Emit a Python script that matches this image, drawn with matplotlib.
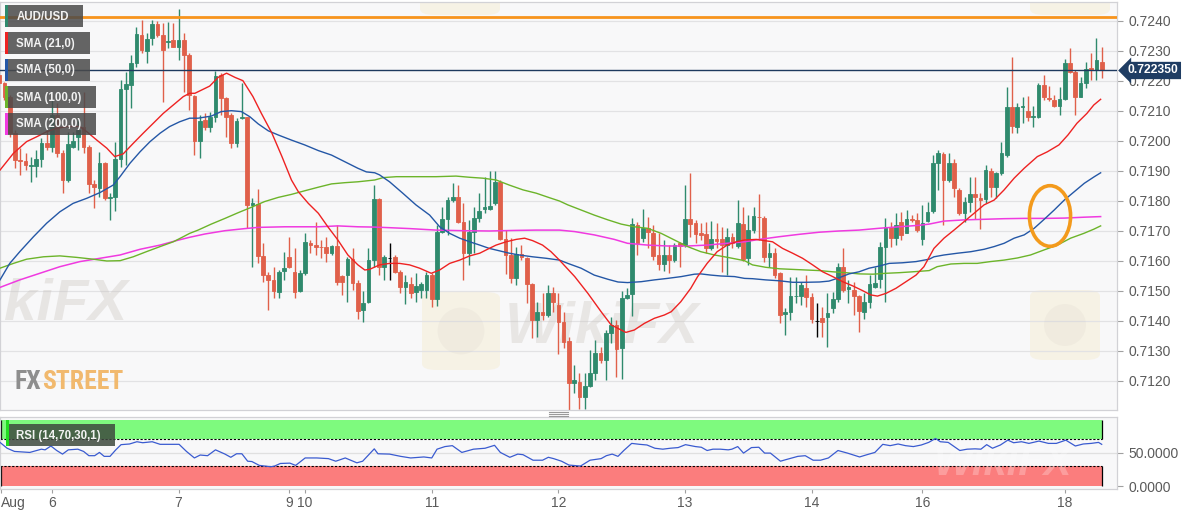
import numpy as np
import matplotlib
matplotlib.use('Agg')
import matplotlib.pyplot as plt
from matplotlib.patches import Rectangle, Ellipse, FancyBboxPatch
import matplotlib.transforms as mtransforms
from matplotlib import font_manager as fm

plt.rcParams['font.family'] = ['Liberation Sans', 'DejaVu Sans']

# ---------------- data (AUD/USD hourly) ----------------
candle_open = [
0.72220,0.72192,0.72148,0.72028,0.71937,0.71932,0.71917,0.71917,0.71939,0.71992,
0.71981,0.72087,0.71961,0.71870,0.71981,0.72012,0.72048,0.71979,0.71857,0.71842,
0.71926,0.71809,0.71814,0.71940,0.72172,0.72187,0.72259,0.72353,0.72301,0.72342,
0.72390,0.72353,0.72331,0.72337,0.72314,0.72337,0.72287,0.72150,0.72001,0.72070,
0.72048,0.72081,0.72220,0.72142,0.72087,0.71994,0.72076,0.72079,0.71787,0.71790,
0.71617,0.71553,0.71537,0.71498,0.71568,0.71614,0.71564,0.71501,0.71561,0.71659,
0.71653,0.71648,0.71648,0.71626,0.71650,0.71550,0.71553,0.71606,0.71528,0.71437,
0.71464,0.71603,0.71806,0.71581,0.71611,0.71614,0.71564,0.71514,0.71523,0.71497,
0.71503,0.71503,0.71553,0.71473,0.71696,0.71740,0.71803,0.71812,0.71731,0.71626,
0.71698,0.71742,0.71772,0.71772,0.71792,0.71864,0.71672,0.71620,0.71542,0.71623,
0.71609,0.71523,0.71403,0.71431,0.71420,0.71492,0.71453,0.71398,0.71334,0.71194,
0.71198,0.71146,0.71183,0.71226,0.71292,0.71270,0.71359,0.71387,0.71309,0.71476,
0.71490,0.71720,0.71676,0.71709,0.71692,0.71620,0.71590,0.71620,0.71603,0.71659,
0.71653,0.71740,0.71726,0.71692,0.71690,0.71642,0.71672,0.71672,0.71653,0.71679,
0.71650,0.71723,0.71609,0.71703,0.71748,0.71742,0.71612,0.71628,0.71559,0.71423,
0.71430,0.71482,0.71483,0.71509,0.71481,0.71401,0.71409,0.71412,0.71442,0.71472,
0.71581,0.71506,0.71503,0.71483,0.71431,0.71464,0.71514,0.71539,0.71648,0.71714,
0.71676,0.71731,0.71694,0.71740,0.71737,0.71672,0.71734,0.71768,0.71926,0.71957,
0.71870,0.71928,0.71837,0.71761,0.71798,0.71823,0.71809,0.71806,0.71901,0.71848,
0.71892,0.71953,0.72112,0.72048,0.72114,0.72101,0.72079,0.72081,0.72187,0.72144,
0.72137,0.72117,0.72139,0.72261,0.72231,0.72148,0.72192,0.72242,0.72237,0.72263]
candle_high = [
0.72231,0.72198,0.72153,0.72037,0.71976,0.71959,0.71948,0.71970,0.72009,0.72037,
0.72137,0.72126,0.71970,0.72031,0.72031,0.72081,0.72164,0.71987,0.71870,0.71964,
0.71931,0.71826,0.71998,0.72203,0.72231,0.72287,0.72381,0.72403,0.72359,0.72403,
0.72401,0.72392,0.72398,0.72392,0.72439,0.72359,0.72292,0.72153,0.72087,0.72092,
0.72098,0.72234,0.72226,0.72148,0.72092,0.72076,0.72194,0.72081,0.71809,0.71839,
0.71659,0.71564,0.71581,0.71570,0.71631,0.71681,0.71642,0.71570,0.71692,0.71670,
0.71731,0.71670,0.71681,0.71653,0.71720,0.71553,0.71614,0.71642,0.71537,0.71501,
0.71642,0.71853,0.71809,0.71620,0.71661,0.71620,0.71570,0.71553,0.71548,0.71559,
0.71531,0.71564,0.71561,0.71720,0.71781,0.71814,0.71861,0.71853,0.71792,0.71737,
0.71781,0.71826,0.71881,0.71901,0.71901,0.71870,0.71703,0.71676,0.71648,0.71653,
0.71614,0.71526,0.71464,0.71492,0.71520,0.71514,0.71492,0.71431,0.71348,0.71253,
0.71226,0.71226,0.71303,0.71337,0.71314,0.71370,0.71414,0.71403,0.71501,0.71509,
0.71742,0.71731,0.71772,0.71748,0.71720,0.71692,0.71670,0.71653,0.71659,0.71664,
0.71853,0.71892,0.71737,0.71726,0.71731,0.71734,0.71728,0.71714,0.71709,0.71692,
0.71803,0.71781,0.71753,0.71781,0.71823,0.71750,0.71661,0.71642,0.71564,0.71442,
0.71548,0.71548,0.71531,0.71553,0.71492,0.71461,0.71448,0.71492,0.71498,0.71592,
0.71642,0.71537,0.71531,0.71487,0.71492,0.71553,0.71581,0.71664,0.71742,0.71731,
0.71759,0.71764,0.71770,0.71753,0.71759,0.71787,0.71798,0.71953,0.71970,0.71964,
0.71959,0.71939,0.71842,0.71814,0.71879,0.71881,0.71826,0.71920,0.71909,0.71898,
0.71998,0.72181,0.72281,0.72126,0.72148,0.72150,0.72117,0.72192,0.72220,0.72183,
0.72153,0.72181,0.72272,0.72311,0.72237,0.72214,0.72264,0.72294,0.72342,0.72312]
candle_low = [
0.72187,0.72137,0.72014,0.71909,0.71887,0.71903,0.71864,0.71881,0.71914,0.71970,
0.71964,0.71948,0.71828,0.71864,0.71976,0.71970,0.71959,0.71826,0.71776,0.71814,
0.71803,0.71737,0.71768,0.71914,0.71920,0.72109,0.72248,0.72292,0.72259,0.72320,
0.72348,0.72131,0.72309,0.72314,0.72270,0.72164,0.72103,0.71953,0.71942,0.72037,
0.72031,0.72064,0.72087,0.72014,0.71976,0.71981,0.72072,0.71709,0.71581,0.71592,
0.71531,0.71437,0.71476,0.71476,0.71537,0.71576,0.71476,0.71498,0.71553,0.71626,
0.71620,0.71609,0.71598,0.71620,0.71520,0.71487,0.71464,0.71503,0.71406,0.71398,
0.71461,0.71581,0.71553,0.71537,0.71537,0.71559,0.71492,0.71457,0.71476,0.71464,
0.71476,0.71476,0.71448,0.71450,0.71692,0.71687,0.71798,0.71726,0.71537,0.71587,
0.71626,0.71731,0.71759,0.71770,0.71787,0.71670,0.71557,0.71526,0.71520,0.71603,
0.71459,0.71342,0.71348,0.71403,0.71414,0.71431,0.71290,0.71309,0.71103,0.71159,
0.71106,0.71106,0.71181,0.71203,0.71259,0.71203,0.71326,0.71214,0.71206,0.71473,
0.71417,0.71620,0.71664,0.71642,0.71603,0.71570,0.71568,0.71559,0.71598,0.71581,
0.71648,0.71681,0.71659,0.71670,0.71626,0.71637,0.71642,0.71564,0.71553,0.71642,
0.71642,0.71601,0.71587,0.71692,0.71670,0.71598,0.71581,0.71542,0.71392,0.71353,
0.71403,0.71459,0.71453,0.71448,0.71392,0.71346,0.71346,0.71312,0.71426,0.71464,
0.71498,0.71459,0.71420,0.71364,0.71406,0.71442,0.71509,0.71509,0.71464,0.71648,
0.71653,0.71670,0.71692,0.71731,0.71698,0.71653,0.71731,0.71759,0.71837,0.71720,
0.71864,0.71814,0.71753,0.71731,0.71764,0.71739,0.71706,0.71792,0.71814,0.71809,
0.71887,0.71948,0.72026,0.72026,0.72059,0.72068,0.72048,0.72076,0.72137,0.72134,
0.72112,0.72087,0.72137,0.72228,0.72087,0.72146,0.72176,0.72203,0.72203,0.72209]
candle_close = [
0.72192,0.72148,0.72026,0.71937,0.71932,0.71920,0.71920,0.71939,0.71992,0.71981,
0.72087,0.71961,0.71870,0.71990,0.72001,0.72037,0.71979,0.71857,0.71846,0.71926,
0.71809,0.71812,0.71940,0.72172,0.72190,0.72259,0.72357,0.72303,0.72340,0.72390,
0.72353,0.72303,0.72334,0.72314,0.72337,0.72287,0.72153,0.72001,0.72068,0.72048,
0.72081,0.72217,0.72142,0.72081,0.71994,0.72068,0.72079,0.71787,0.71792,0.71617,
0.71553,0.71537,0.71501,0.71564,0.71576,0.71581,0.71498,0.71561,0.71664,0.71653,
0.71648,0.71647,0.71626,0.71650,0.71531,0.71531,0.71606,0.71528,0.71434,0.71461,
0.71603,0.71806,0.71581,0.71612,0.71611,0.71564,0.71514,0.71531,0.71494,0.71517,
0.71523,0.71553,0.71473,0.71696,0.71740,0.71803,0.71812,0.71731,0.71626,0.71698,
0.71742,0.71767,0.71779,0.71783,0.71864,0.71672,0.71620,0.71542,0.71623,0.71614,
0.71523,0.71403,0.71431,0.71420,0.71492,0.71464,0.71398,0.71331,0.71194,0.71203,
0.71146,0.71183,0.71226,0.71292,0.71270,0.71359,0.71387,0.71306,0.71476,0.71487,
0.71723,0.71661,0.71709,0.71698,0.71617,0.71590,0.71620,0.71603,0.71653,0.71650,
0.71740,0.71723,0.71690,0.71687,0.71642,0.71672,0.71668,0.71653,0.71679,0.71661,
0.71728,0.71608,0.71703,0.71750,0.71746,0.71612,0.71628,0.71553,0.71420,0.71431,
0.71483,0.71484,0.71520,0.71481,0.71406,0.71401,0.71398,0.71426,0.71472,0.71581,
0.71503,0.71512,0.71483,0.71434,0.71464,0.71523,0.71528,0.71648,0.71714,0.71676,
0.71720,0.71687,0.71740,0.71737,0.71703,0.71728,0.71764,0.71928,0.71959,0.71870,
0.71928,0.71842,0.71761,0.71798,0.71823,0.71812,0.71803,0.71903,0.71848,0.71892,
0.71959,0.72112,0.72050,0.72114,0.72117,0.72081,0.72083,0.72187,0.72146,0.72141,
0.72117,0.72139,0.72261,0.72231,0.72148,0.72192,0.72240,0.72237,0.72270,0.72235]

sma21_x = [0.15,2.7,5.2,7.1,9,10.9,12.8,15.3,16.6,18.5,20.4,21.9,23.5,25.4,27.3,29.2,31.1,33,34.9,36.1,
           37.1,39.9,41.5,43.1,44.7,46.2,48.1,49.7,51.7,53.6,55.4,56.7,58.6,60.5,62.3,64.2,66.1,68,69.3,70.2,
           72.1,74,75.9,77.8,79.7,81.9,83.5,85.4,87.3,89.2,91.1,92.9,94.2,96.1,98,99.6,101.1,103,104.6,106.2,
           109.1,111.6,114.1,116,117.9,118.8,120.4,122.3,124.2,126.1,127.4,129.2,131.1,132.4,134.2,136.1,138,139.7,141.3,
           143.5,146.6,148.5,150.4,152.3,154.2,156.1,158,159.9,161.8,163.7,165.2,166.5,168.1,170,171.9,173.8,175.3,
           177.2,179.1,181,182.9,184.8,186.7,188.6,190.5,192.4,194.3,196.8,198.7,200.9,202.6,204.3,206.2,207.5,208.8]
sma21_v = [0.71903,0.71959,0.71998,0.72014,0.72031,0.72042,0.72048,0.72048,0.72031,0.72003,0.71976,0.71948,0.71957,0.71992,0.72026,0.72059,0.72092,0.72120,0.72148,0.72159,
           0.72159,0.72183,0.72212,0.72226,0.72212,0.72201,0.72148,0.72092,0.72026,0.71948,0.71870,0.71831,0.71792,0.71759,0.71714,0.71670,0.71620,0.71587,0.71570,0.71572,
           0.71587,0.71592,0.71592,0.71587,0.71576,0.71559,0.71570,0.71592,0.71603,0.71617,0.71626,0.71642,0.71653,0.71664,0.71672,0.71676,0.71668,0.71653,0.71631,0.71603,
           0.71548,0.71492,0.71431,0.71387,0.71370,0.71362,0.71370,0.71392,0.71409,0.71420,0.71431,0.71464,0.71509,0.71548,0.71592,0.71631,0.71653,0.71664,0.71670,
           0.71672,0.71664,0.71642,0.71626,0.71609,0.71587,0.71564,0.71548,0.71531,0.71517,0.71501,0.71487,0.71483,0.71492,0.71509,0.71531,0.71553,0.71581,
           0.71642,0.71676,0.71703,0.71731,0.71759,0.71787,0.71803,0.71837,0.71876,0.71909,0.71948,0.71964,0.71987,0.72020,0.72059,0.72092,0.72120,0.72139]

sma50_x = [0.15,2,3.9,6.5,9,11.5,14,16.6,19.1,21.6,22.9,24.8,26.7,28.6,30.5,32.3,34.2,36.1,37.7,40.2,42.1,44,45.9,47.5,
           49.1,51,52.9,55.4,57.9,60.5,63,65.5,68,69.6,71.2,72.1,74,76.5,79,81.6,83.5,85.4,87.3,89.2,91.1,92.9,94.8,96.7,
           98.6,101.1,103.7,106.2,107.8,110.3,112.8,115.4,117.3,119.1,121.7,124.2,126.7,129.3,131.8,133,134.9,136.8,139.4,141.3,
           142.8,145.3,147.9,150.4,152.9,155.5,157.3,159.2,161.1,163,164.9,166.8,168.7,171.2,173.8,176.3,177.2,179.1,181.7,
           184.2,186.7,188.6,190.5,192.4,194.3,196.2,198.1,200,201.9,203.8,205.7,207.6,208.8]
sma50_v = [0.71537,0.71592,0.71631,0.71681,0.71726,0.71764,0.71792,0.71809,0.71828,0.71853,0.71881,0.71926,0.71964,0.71998,0.72026,0.72048,0.72064,0.72076,0.72076,0.72083,0.72098,0.72101,0.72098,0.72081,
           0.72057,0.72034,0.72020,0.72003,0.71987,0.71968,0.71953,0.71931,0.71909,0.71897,0.71894,0.71887,0.71864,0.71826,0.71787,0.71753,0.71714,0.71692,0.71676,0.71664,0.71653,0.71642,0.71634,0.71626,
           0.71620,0.71614,0.71609,0.71603,0.71592,0.71576,0.71553,0.71539,0.71530,0.71528,0.71531,0.71537,0.71542,0.71548,0.71556,0.71557,0.71553,0.71550,0.71548,0.71542,
           0.71541,0.71537,0.71534,0.71529,0.71529,0.71530,0.71533,0.71544,0.71557,0.71564,0.71576,0.71583,0.71592,0.71594,0.71598,0.71606,0.71614,0.71620,0.71626,
           0.71631,0.71639,0.71648,0.71659,0.71676,0.71687,0.71709,0.71739,0.71770,0.71803,0.71831,0.71859,0.71881,0.71894]

sma100_x = [0.15,2.7,5.2,8.4,11.5,14.7,17.8,20.4,22.9,25.4,27.9,30.5,33,34.9,36.1,37.7,40.2,42.8,45.3,47.8,50.3,52.9,55.4,57.9,
            60.5,63,65.5,68,71.2,72.8,75.3,79,82.8,86.6,89.2,91.7,94.2,96.7,99.3,101.8,104.3,106.2,107.8,110.3,112.8,115.4,117.9,
            120.4,122.9,125.5,128,130.5,133,135.6,138.1,141.3,142.8,145.3,147.9,150.4,152.9,155.5,158,160.5,163,165.6,168.1,170.6,
            173.2,176.3,177.8,180.4,182.9,185.4,187.9,190.5,193,195.5,198.1,200.6,203.1,205.6,207.5,208.8]
sma100_v = [0.71576,0.71592,0.71606,0.71614,0.71617,0.71612,0.71606,0.71600,0.71601,0.71614,0.71631,0.71648,0.71664,0.71681,0.71692,0.71703,0.71723,0.71742,0.71761,0.71779,0.71798,0.71812,0.71822,0.71834,
            0.71846,0.71857,0.71861,0.71864,0.71870,0.71878,0.71881,0.71881,0.71881,0.71883,0.71879,0.71876,0.71870,0.71853,0.71837,0.71826,0.71811,0.71800,0.71787,0.71770,0.71753,0.71737,0.71723,
            0.71714,0.71709,0.71692,0.71670,0.71648,0.71631,0.71620,0.71612,0.71601,0.71587,0.71579,0.71574,0.71572,0.71570,0.71568,0.71564,0.71561,0.71557,0.71556,0.71559,0.71561,
            0.71564,0.71568,0.71581,0.71590,0.71592,0.71592,0.71598,0.71603,0.71610,0.71620,0.71637,0.71653,0.71676,0.71692,0.71706,0.71717]

sma200_x = [0.15,3.9,7.7,11.5,15.3,19.1,22.9,26.7,30.5,33.6,36.1,39,42.8,46.6,49.1,54.1,60.5,64.2,68,71.2,74,77.8,82.8,87.9,
            92.9,98,101.8,106.2,109.1,112.8,116.6,119.1,122.9,126.7,130.5,134.2,138,141.3,144.1,147.9,151.7,155.5,159.2,163,
            166.8,170.6,174.4,176.3,179.1,182.9,186.7,190.5,194.3,198.1,201.9,205.7,208.8]
sma200_v = [0.71512,0.71537,0.71559,0.71581,0.71598,0.71609,0.71620,0.71639,0.71653,0.71668,0.71679,0.71690,0.71701,0.71708,0.71712,0.71714,0.71714,0.71717,0.71714,0.71713,0.71711,0.71708,0.71703,0.71701,
            0.71700,0.71702,0.71703,0.71703,0.71698,0.71687,0.71672,0.71659,0.71653,0.71650,0.71650,0.71653,0.71659,0.71664,0.71672,0.71681,0.71689,0.71696,0.71700,0.71703,
            0.71709,0.71714,0.71719,0.71723,0.71733,0.71737,0.71739,0.71741,0.71742,0.71742,0.71743,0.71746,0.71748]

rsi_x = [0,1.5,2.9,5.8,8.0,8.7,9.8,10.9,12.0,13.1,14.9,16.0,17.0,18.1,19.0,19.9,21.0,22.1,23.1,24.7,26.1,27.2,29.0,30.5,31.9,
         34.1,35.5,37.0,38.1,39.5,41.0,42.8,43.9,45.0,46.0,47.1,47.9,49.3,51.5,52.2,53.3,55.1,56.2,58.0,60.2,62.4,63.8,65.6,67.8,
         68.9,71.1,71.8,74.0,76.1,78.0,80.5,82.0,83.0,84.5,85.9,87.7,89.9,92.1,93.9,95.0,96.8,98.3,99.3,101.2,103.0,104.1,105.1,
         106.6,108.0,110.2,112.0,114.1,115.1,116.2,117.3,118.4,119.9,121.4,122.8,124.3,125.8,127.2,128.7,130.1,132.0,133.1,134.2,
         135.3,136.7,138.2,138.9,140.0,141.1,142.6,144.0,145.1,146.2,148.1,149.2,151.4,152.8,154.3,155.7,157.2,159.0,160.8,163.1,
         164.5,166.0,167.5,168.9,170.4,171.8,173.3,174.8,176.2,177.5,178.4,179.9,182.1,183.5,185.0,186.1,187.2,188.3,189.8,191.2,
         192.3,193.8,195.2,197.1,198.9,200.4,202.2,204.0,205.5,207.0,208.4,209.0]
rsi_v = [66.6,56.8,52.0,50.5,55.4,54.4,60.2,53.4,48.0,54.4,55.4,52.0,45.6,45.6,50.5,44.6,44.6,54.4,62.2,63.2,66.6,65.1,66.6,62.7,62.7,
         62.7,52.0,42.2,46.6,45.6,54.4,48.0,43.2,48.5,48.5,37.3,36.8,31.0,29.0,30.0,33.9,34.4,31.0,42.2,42.2,41.2,37.3,42.2,34.9,
         37.3,55.9,48.5,48.0,44.6,42.2,43.7,42.2,55.4,59.3,60.7,50.5,55.4,56.8,61.2,50.5,43.2,48.0,47.1,38.8,38.8,43.2,41.2,
         37.3,31.5,30.0,38.8,41.2,45.6,48.0,44.6,53.4,64.1,62.7,61.7,56.8,55.4,56.8,57.8,62.2,59.3,58.3,53.4,
         55.4,55.4,54.4,55.4,59.3,49.5,57.8,58.3,49.5,49.5,37.3,39.8,44.6,45.6,38.8,38.8,42.2,53.4,49.5,43.7,
         47.1,50.5,62.7,60.7,63.2,60.7,59.3,61.7,65.6,71.5,66.6,65.6,53.4,55.4,55.9,55.4,62.2,56.8,61.7,69.0,
         65.1,66.6,64.1,67.6,64.1,64.1,69.0,60.2,63.2,64.1,65.6,62.7]

day_ticks = [0.3, 10, 34, 55, 58, 82, 106, 130, 154, 175, 202]
day_labels = ['Aug', '6', '7', '9', '10', '11', '12', '13', '14', '16', '18']
price_ticks = [0.7120, 0.7130, 0.7140, 0.7150, 0.7160, 0.7170, 0.7180, 0.7190, 0.7200, 0.7210, 0.7220, 0.7230, 0.7240]
resistance_level = 0.72414
last_price = 0.72235
circle_center = (199.2, 0.71750)
circle_size = (7.8, 0.00202)

# ---------------- styling ----------------
GREEN = '#2f8a6d'
RED = '#e0604a'
C21, C50, C100, C200 = '#ee2222', '#2457a6', '#6cb42a', '#f03ae0'
BG = '#f8f8f9'
W, H = 1194, 513

fig = plt.figure(figsize=(W / 100, H / 100), dpi=100)
fig.patch.set_facecolor('white')

def fx(px):
    return px / W

def fy(py):
    return 1 - py / H

ax = fig.add_axes([0, fy(410), fx(1117), fy(2) - fy(410)])
axr = fig.add_axes([0, fy(489), fx(1117), fy(417) - fy(489)])

o = np.array(candle_open); h = np.array(candle_high)
l = np.array(candle_low); c = np.array(candle_close)
idx = np.arange(len(c))
cols = np.where(c > o, GREEN, np.where(c < o, RED, 'black'))

XL = (0.15, 211.9)
ax.set_facecolor(BG)
ax.set_xlim(*XL)
ax.set_ylim(0.711033, 0.724633)
ax.set_axisbelow(True)
ax.set_yticks(price_ticks)
ax.set_yticklabels([f'{t:.4f}' for t in price_ticks])
ax.yaxis.tick_right()
ax.tick_params(axis='y', direction='out', length=4, width=0.8, color='#a0a0a0',
               labelcolor='#5a5a5a', labelsize=10, pad=4)
ax.set_xticks([])
ax.yaxis.grid(True, color='#e2e2e4', lw=0.9)
for s in ax.spines.values():
    s.set_color('#d2d2d6'); s.set_linewidth(0.9)

# faint watermark logos / text (behind data)
def logo(axx, x0, y0, w, hgt):
    axx.add_patch(FancyBboxPatch((fx(x0), fy(y0 + hgt)), fx(w), hgt / H,
                                 boxstyle='round,pad=0,rounding_size=0.012', transform=fig.transFigure,
                                 facecolor='#f3e3b4', edgecolor='none', alpha=0.28, zorder=0.5))
    axx.add_patch(Ellipse((fx(x0 + w / 2), fy(y0 + hgt / 2)), fx(w * 0.6), hgt * 0.6 / H,
                          transform=fig.transFigure, facecolor='#bdb6ae', edgecolor='none',
                          alpha=0.10, zorder=0.6))

logo(ax, 422, 292, 78, 78)
logo(ax, 1030, 290, 70, 70)
logo(ax, 420, -60, 80, 75)
logo(ax, 1030, -60, 80, 75)
ax.text(fx(4), fy(320), 'kiFX', transform=fig.transFigure, ha='left', va='baseline',
        fontsize=42, fontweight='bold', style='italic', color='#c8c2bc', alpha=0.35, zorder=0.6)
ax.text(fx(505), fy(343), 'WikiFX', transform=fig.transFigure, ha='left', va='baseline',
        fontsize=42, fontweight='bold', style='italic', color='#c8c2bc', alpha=0.33, zorder=0.6)

# candles
ax.vlines(idx, l, h, colors=cols, lw=1.0, zorder=2)
ax.bar(idx, np.abs(c - o), bottom=np.minimum(o, c), width=0.7, color=cols,
       edgecolor=cols, linewidth=0.6, zorder=3)

# moving averages
ax.plot(sma200_x, sma200_v, color=C200, lw=1.1, zorder=4)
ax.plot(sma100_x, sma100_v, color=C100, lw=1.0, zorder=4)
ax.plot(sma50_x, sma50_v, color=C50, lw=1.0, zorder=4)
ax.plot(sma21_x, sma21_v, color=C21, lw=1.0, zorder=4)

ax.axhline(resistance_level, color='#f7941d', lw=2.0, zorder=5)
ax.axhline(last_price, color='#1e3a5f', lw=1.0, zorder=5)
ax.add_patch(Ellipse(circle_center, circle_size[0], circle_size[1], fill=False,
                     edgecolor='#f39a1c', lw=2.6, zorder=6))

# last price tag
trans = mtransforms.blended_transform_factory(ax.transAxes, ax.transData)
ax.text(1.0095, last_price, f'{last_price:.6f}', transform=trans, ha='left', va='center',
        fontsize=8.7, fontweight='bold', color='white', clip_on=False, zorder=10,
        bbox=dict(boxstyle='larrow,pad=0.22', facecolor='#1f3d63', edgecolor='none'))

# ---------------- RSI panel ----------------
axr.set_facecolor(BG)
axr.set_xlim(*XL)
axr.set_ylim(-4.5, 103.8)
x_end = 209.0
axr.add_patch(Rectangle((XL[0], 70), x_end - XL[0], 30, facecolor='#7efa7e', edgecolor='none', zorder=1))
axr.add_patch(Rectangle((XL[0], 0), x_end - XL[0], 30, facecolor='#fb7d7d', edgecolor='none', zorder=1))
axr.hlines([70, 30], XL[0], x_end, colors='black', lw=0.8, linestyles=(0, (2, 1.5)), zorder=2)
axr.vlines([XL[0] + 0.1, x_end], 70, 100, colors='black', lw=0.9, zorder=2)
axr.vlines([XL[0] + 0.1, x_end], 0, 30, colors='black', lw=0.9, zorder=2)
axr.axhline(50, color='#e0e0e0', lw=0.9, zorder=0.8)
axr.plot(rsi_x, rsi_v, color='#3a5bd0', lw=0.9, zorder=3)
axr.set_yticks([0, 50])
axr.set_yticklabels(['0.0000', '50.0000'])
axr.yaxis.tick_right()
axr.tick_params(axis='y', direction='out', length=4, width=0.8, color='#a0a0a0',
                labelcolor='#5a5a5a', labelsize=10, pad=4)
axr.set_xticks(day_ticks)
axr.set_xticklabels(day_labels)
axr.tick_params(axis='x', direction='out', length=3, width=0.8, color='#a0a0a0',
                labelcolor='#5a5a5a', labelsize=10, pad=2)
axr.get_xticklabels()[0].set_ha('left')
for s in axr.spines.values():
    s.set_color('#d2d2d6'); s.set_linewidth(0.9)
axr.text(fx(1072), fy(484), 'WikiFX', transform=fig.transFigure, ha='right', va='bottom',
         fontsize=30, fontweight='bold', style='italic', color='#ffffff', alpha=0.25, zorder=2.5)

# ---------------- legend boxes ----------------
legend_items = [('AUD/USD', GREEN, 5, 83), ('SMA (21,0)', C21, 32, 90), ('SMA (50,0)', C50, 59, 90),
                ('SMA (100,0)', C100, 86, 96), ('SMA (200,0)', C200, 113, 96)]
for label, colr, top, right in legend_items:
    fig.add_artist(Rectangle((fx(5), fy(top + 22)), fx(right - 5), 22 / H, transform=fig.transFigure,
                             facecolor='#4a4a4a', edgecolor='none', alpha=0.85, zorder=20))
    fig.add_artist(Rectangle((fx(5), fy(top + 22)), fx(2.5), 22 / H, transform=fig.transFigure,
                             facecolor=colr, edgecolor='none', zorder=21))
    fig.text(fx(16.5), fy(top + 11.5), label, ha='left', va='center', fontsize=8.3,
             fontweight='bold', color='#f2f2f2', zorder=22)

fig.add_artist(Rectangle((fx(7), fy(446)), fx(108), 22 / H, transform=fig.transFigure,
                         facecolor='#3e4a3e', edgecolor='none', alpha=0.85, zorder=20))
fig.add_artist(Rectangle((fx(6), fy(446)), fx(2.5), 26 / H, transform=fig.transFigure,
                         facecolor='#22dd22', edgecolor='none', zorder=21))
fig.text(fx(16.5), fy(435.5), 'RSI (14,70,30,1)', ha='left', va='center', fontsize=8.3,
         fontweight='bold', color='#f2f2f2', zorder=22)

# FXSTREET logo (condensed font if one is installed, sized to the logo width)
logo_font = fm.FontProperties(family=['Liberation Sans', 'DejaVu Sans'], weight='bold')
for fam in ['DejaVu Sans Condensed', 'Liberation Sans Narrow', 'Roboto Condensed', 'Open Sans Condensed']:
    try:
        fm.findfont(fm.FontProperties(family=fam, weight='bold'), fallback_to_default=False)
        logo_font = fm.FontProperties(family=fam, weight='bold')
        break
    except Exception:
        pass
fig.canvas.draw()
renderer = fig.canvas.get_renderer()
probe = fig.text(0, 0, 'FXSTREET', fontproperties=logo_font, fontsize=20)
pw = probe.get_window_extent(renderer).width
probe.remove()
logo_fs = 20 * 108 / pw
t_fx = fig.text(fx(15), fy(389), 'FX', ha='left', va='baseline', fontproperties=logo_font,
                fontsize=logo_fs, color='#8e8e8e', zorder=1.5)
fxw = t_fx.get_window_extent(renderer).width
fig.text(fx(15 + fxw + 0.5), fy(389), 'STREET', ha='left', va='baseline', fontproperties=logo_font,
         fontsize=logo_fs, color='#f1b96e', zorder=1.5)

# panel handle
for yy in (411.5, 413.5, 415.5):
    fig.add_artist(plt.Line2D([fx(549), fx(568)], [fy(yy), fy(yy)], transform=fig.transFigure,
                              color='#9a9a9a', lw=0.8))

fig.savefig('out.png', dpi=100, facecolor='white')
